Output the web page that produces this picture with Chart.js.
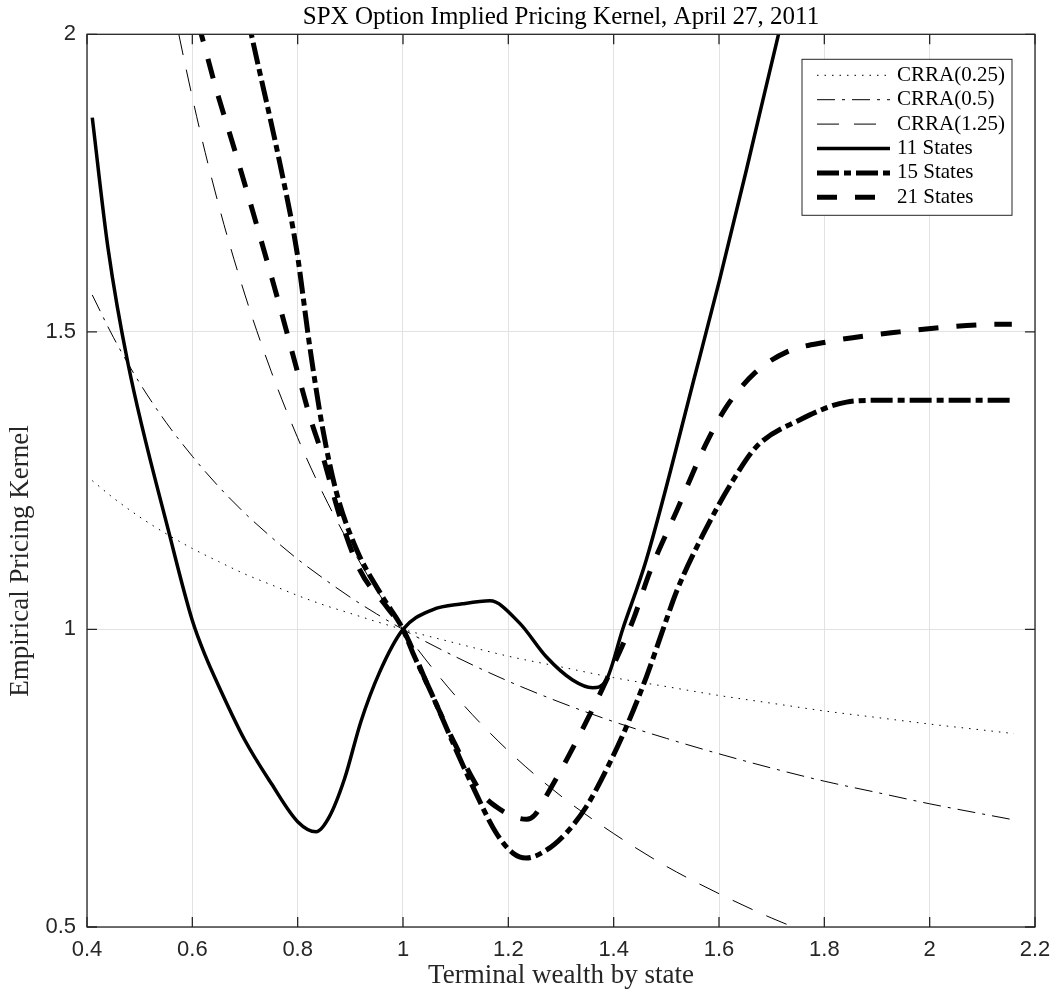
<!DOCTYPE html>
<html lang="en">
  <head>
    <meta charset="UTF-8" />
    <title>SPX Option Implied Pricing Kernel</title>
    <script src="https://cdn.jsdelivr.net/npm/chart.js"></script>
    <style>
      html, body { margin: 0; padding: 0; background: #fff; }
      .chart-box { position: relative; width: 1061px; height: 992px; }
    </style>
  </head>
  <body>
    <div class="chart-box"><canvas id="kernelChart"></canvas></div>

    <script>
      // tick values / labels
      const xTickValues = [0.4, 0.6, 0.8, 1.0, 1.2, 1.4, 1.6, 1.8, 2.0, 2.2];
      const xTickLabels = ["0.4", "0.6", "0.8", "1", "1.2", "1.4", "1.6", "1.8", "2", "2.2"];
      const yTickValues = [0.5, 1.0, 1.5, 2.0];
      const yTickLabels = ["0.5", "1", "1.5", "2"];

      const seriesLabels = ["CRRA(0.25)", "CRRA(0.5)", "CRRA(1.25)", "11 States", "15 States", "21 States"];

      // CRRA reference curves
      const crraX = [0.41, 0.45, 0.5, 0.55, 0.6, 0.65, 0.7, 0.75, 0.8, 0.85, 0.9, 0.95, 1.0,
                     1.1, 1.2, 1.3, 1.4, 1.5, 1.6, 1.7, 1.8, 1.9, 2.0, 2.1, 2.16];
      const crra025 = [1.250, 1.221, 1.189, 1.161, 1.136, 1.114, 1.093, 1.075, 1.057, 1.041, 1.027, 1.013, 1.000,
                       0.977, 0.955, 0.937, 0.919, 0.904, 0.889, 0.876, 0.863, 0.852, 0.841, 0.831, 0.825];
      const crra05 = [1.562, 1.491, 1.414, 1.348, 1.291, 1.240, 1.195, 1.155, 1.118, 1.085, 1.054, 1.026, 1.000,
                      0.954, 0.913, 0.877, 0.845, 0.817, 0.791, 0.767, 0.745, 0.726, 0.707, 0.690, 0.680];
      const crra125 = [3.048, 2.713, 2.378, 2.111, 1.894, 1.713, 1.562, 1.433, 1.322, 1.225, 1.141, 1.066, 1.000,
                       0.888, 0.796, 0.720, 0.657, 0.602, 0.556, 0.515, 0.480, 0.448, 0.420, 0.396, 0.382];

      // empirical kernels
      const states11X = [0.41, 0.44, 0.478, 0.557, 0.6, 0.625, 0.65, 0.699, 0.75, 0.80, 0.835, 0.86, 0.889, 0.92, 0.955, 1.0,
                         1.056, 1.113, 1.165, 1.221, 1.272, 1.322, 1.36, 1.386, 1.417, 1.462, 1.557, 1.601, 1.652, 1.713, 1.73];
      const states11 = [1.86, 1.64, 1.446, 1.158, 1.015, 0.955, 0.905, 0.815, 0.741, 0.677, 0.66, 0.685, 0.749, 0.845, 0.927, 1.0,
                        1.033, 1.043, 1.048, 1.011, 0.954, 0.915, 0.902, 0.915, 1.0, 1.117, 1.436, 1.587, 1.772, 2.0, 2.06];

      const states15X = [0.70, 0.712, 0.766, 0.798, 0.823, 0.848, 0.874, 0.912, 0.961, 1.0, 1.019, 1.057, 1.095, 1.133,
                         1.177, 1.209, 1.234, 1.272, 1.31, 1.348, 1.386, 1.424, 1.462, 1.50, 1.519, 1.57, 1.627, 1.671,
                         1.753, 1.842, 1.9, 2.0, 2.16];
      const states15 = [2.05, 2.0, 1.784, 1.638, 1.475, 1.335, 1.229, 1.134, 1.055, 1.0, 0.96, 0.887, 0.809, 0.735,
                        0.658, 0.624, 0.616, 0.629, 0.658, 0.702, 0.764, 0.836, 0.92, 1.016, 1.063, 1.16, 1.251, 1.307,
                        1.352, 1.382, 1.385, 1.385, 1.385];

      const states21X = [0.61, 0.617, 0.642, 0.684, 0.725, 0.766, 0.785, 0.823, 0.848, 0.88, 0.918, 0.969, 1.0,
                         1.05, 1.1, 1.15, 1.177, 1.215, 1.235, 1.25, 1.27, 1.31, 1.348, 1.38, 1.437, 1.468, 1.52,
                         1.576, 1.614, 1.668, 1.728, 1.804, 1.943, 2.095, 2.156];
      const states21 = [2.02, 2.0, 1.918, 1.795, 1.671, 1.543, 1.481, 1.358, 1.29, 1.19, 1.10, 1.038, 1.0,
                        0.90, 0.805, 0.724, 0.702, 0.684, 0.681, 0.688, 0.717, 0.78, 0.845, 0.903, 1.016, 1.095, 1.2,
                        1.313, 1.374, 1.431, 1.466, 1.483, 1.5, 1.512, 1.513];

      const yAxisTitle = "Empirical Pricing Kernel";

      function toPoints(xs, ys) {
        return xs.map((x, i) => ({ x: x, y: ys[i] }));
      }

      const serif = "'Liberation Serif', 'DejaVu Serif', serif";
      const sans = "'Liberation Sans', Arial, sans-serif";

      // box, inward ticks, y label and legend drawn like a MATLAB axes
      const matlabAxes = {
        id: "matlabAxes",
        afterDraw(chart) {
          const ctx = chart.ctx;
          const area = chart.chartArea;
          const xs = chart.scales.x;
          const ys = chart.scales.y;
          ctx.save();
          ctx.strokeStyle = "#262626";
          ctx.lineWidth = 1.3;
          ctx.setLineDash([]);
          ctx.beginPath();
          xs.ticks.forEach((t) => {
            const px = xs.getPixelForValue(t.value);
            ctx.moveTo(px, area.bottom);
            ctx.lineTo(px, area.bottom - 10);
            ctx.moveTo(px, area.top);
            ctx.lineTo(px, area.top + 10);
          });
          ys.ticks.forEach((t) => {
            const py = ys.getPixelForValue(t.value);
            ctx.moveTo(area.left, py);
            ctx.lineTo(area.left + 10, py);
            ctx.moveTo(area.right, py);
            ctx.lineTo(area.right - 10, py);
          });
          ctx.stroke();
          ctx.strokeRect(area.left, area.top, area.right - area.left, area.bottom - area.top);

          // y axis label (sits a bit below the axis middle in the original)
          ctx.save();
          ctx.translate(21, area.top + (area.bottom - area.top) * 0.59);
          ctx.rotate(-Math.PI / 2);
          ctx.font = "27px " + serif;
          ctx.fillStyle = "#262626";
          ctx.textAlign = "center";
          ctx.textBaseline = "middle";
          ctx.fillText(yAxisTitle, 0, 0);
          ctx.restore();

          // legend
          const lx = area.right - 233;
          const ly = area.top + 25;
          ctx.fillStyle = "#fff";
          ctx.fillRect(lx, ly, 210, 156);
          ctx.lineWidth = 1;
          ctx.strokeRect(lx, ly, 210, 156);
          ctx.font = "21px " + serif;
          ctx.textBaseline = "middle";
          chart.data.datasets.forEach((ds, i) => {
            const y = ly + 16 + i * 24.4;
            ctx.strokeStyle = ds.borderColor;
            ctx.lineWidth = ds.borderWidth;
            ctx.setLineDash(ds.borderDash || []);
            ctx.beginPath();
            ctx.moveTo(lx + 15, y);
            ctx.lineTo(lx + 88, y);
            ctx.stroke();
            ctx.setLineDash([]);
            ctx.fillStyle = "#000";
            ctx.fillText(ds.label, lx + 95, y);
          });
          ctx.restore();
        },
      };

      function lineSet(label, xs, ys, width, dash) {
        return {
          label: label,
          data: toPoints(xs, ys),
          borderColor: "#000",
          borderWidth: width,
          borderDash: dash,
          borderJoinStyle: "round",
          pointRadius: 0,
          fill: false,
          clip: 0,
          cubicInterpolationMode: "monotone",
        };
      }

      const ctx = document.getElementById("kernelChart").getContext("2d");
      const kernelChart = new Chart(ctx, {
        type: "line",
        data: {
          datasets: [
            lineSet(seriesLabels[0], crraX, crra025, 1, [1.5, 6]),
            lineSet(seriesLabels[1], crraX, crra05, 1, [18, 7, 3, 7]),
            lineSet(seriesLabels[2], crraX, crra125, 1, [22, 15]),
            lineSet(seriesLabels[3], states11X, states11, 3.5, []),
            lineSet(seriesLabels[4], states15X, states15, 5, [22, 5, 7, 5]),
            lineSet(seriesLabels[5], states21X, states21, 5, [20, 18]),
          ],
        },
        options: {
          responsive: true,
          maintainAspectRatio: false,
          animation: false,
          layout: { padding: { left: 0, right: 26, top: 0, bottom: 0 } },
          plugins: {
            legend: { display: false },
            tooltip: { enabled: false },
            title: {
              display: true,
              fullSize: false,
              text: "SPX Option Implied Pricing Kernel, April 27, 2011",
              color: "#000",
              font: { family: serif, size: 25, weight: "normal" },
              padding: { top: 2, bottom: 2.3 },
            },
          },
          scales: {
            x: {
              type: "linear",
              min: 0.4,
              max: 2.2,
              afterBuildTicks: (s) => { s.ticks = xTickValues.map((v) => ({ value: v })); },
              afterFit: (s) => { s.height = 65; },
              grid: { color: "#e2e2e2", drawTicks: false },
              border: { display: false },
              ticks: {
                padding: 10,
                color: "#262626",
                autoSkip: false,
                maxRotation: 0,
                font: { family: sans, size: 22 },
                callback: (v, i) => xTickLabels[i],
              },
              title: {
                display: true,
                text: "Terminal wealth by state",
                color: "#262626",
                font: { family: serif, size: 27 },
                padding: { top: 0, bottom: 0 },
              },
            },
            y: {
              type: "linear",
              min: 0.5,
              max: 2,
              afterBuildTicks: (s) => { s.ticks = yTickValues.map((v) => ({ value: v })); },
              afterFit: (s) => { s.width = 87; },
              grid: { color: "#e2e2e2", drawTicks: false },
              border: { display: false },
              ticks: {
                padding: 11,
                color: "#262626",
                font: { family: sans, size: 22 },
                callback: (v, i) => yTickLabels[i],
              },
            },
          },
        },
        plugins: [matlabAxes],
      });
    </script>
  </body>
</html>
